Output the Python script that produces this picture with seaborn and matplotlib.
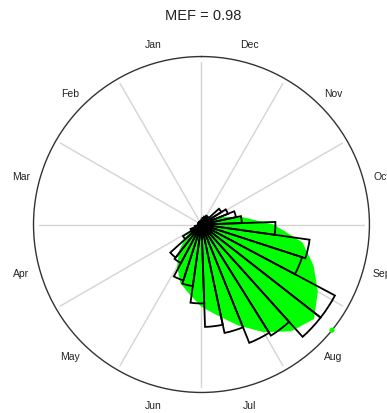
import numpy as np
import matplotlib
matplotlib.use("Agg")
import matplotlib.pyplot as plt
import seaborn as sns

sns.set_theme(style="white")
plt.rcParams["font.family"] = ["Liberation Sans", "DejaVu Sans"]

# Month labels, placed at the centre of each 30-degree sector, Jan at the top,
# running counter-clockwise.
months = ["Jan", "Feb", "Mar", "Apr", "May", "Jun",
          "Jul", "Aug", "Sep", "Oct", "Nov", "Dec"]

# Observed rose diagram: 36 bins of 10 degrees, starting just after Jan 1
# (top) and running counter-clockwise. Lengths relative to the outer circle.
obs_freq = [0.02, 0.02, 0.02, 0.02, 0.02, 0.02, 0.02, 0.02, 0.02, 0.02,
            0.04, 0.07, 0.13, 0.25, 0.26, 0.35, 0.37, 0.47, 0.61, 0.66,
            0.76, 0.78, 0.90, 0.90, 0.63, 0.65, 0.44, 0.24, 0.21, 0.17,
            0.14, 0.05, 0.06, 0.05, 0.04, 0.03]
bin_start_deg = 2.0

# Simulated seasonal density, sampled every 10 degrees from Jan 1.
sim_density = [0.01, 0.01, 0.01, 0.01, 0.01, 0.01, 0.01, 0.01, 0.01, 0.01,
               0.02, 0.04, 0.07, 0.13, 0.21, 0.29, 0.37, 0.42, 0.49, 0.55,
               0.64, 0.74, 0.83, 0.875, 0.80, 0.71, 0.61, 0.43, 0.25, 0.13,
               0.07, 0.03, 0.02, 0.01, 0.01, 0.01]

# Mean direction of the simulated series (degrees from Jan 1).
sim_mean_deg = 231.0
title = "MEF = 0.98"

fig = plt.figure(figsize=(3.87, 4.14), dpi=100)
ax = fig.add_axes([0.0866, 0.0495, 0.868, 0.8116], projection="polar")
ax.set_theta_zero_location("N")
ax.set_theta_direction(1)
ax.set_ylim(0, 1)
ax.set_xticks([])
ax.set_yticks([])
ax.grid(False)
ax.spines["polar"].set_color("#333333")
ax.spines["polar"].set_linewidth(1.0)
ax.set_facecolor("white")

# Month boundaries
for k in range(12):
    th = np.deg2rad(30 * k)
    ax.plot([th, th], [0, 0.97], color="#d4d4d4", lw=1.0, zorder=1)

# Simulated density (filled)
dens_deg = np.arange(0, 360, 10)
th_d = np.deg2rad(np.append(dens_deg, 360))
r_d = np.append(sim_density, sim_density[0])
ax.fill(th_d, r_d, color="#00ff00", lw=0, zorder=2)

# Observed rose (outlined wedges)
centers = np.deg2rad(bin_start_deg + np.arange(len(obs_freq)) * 10 + 5)
ax.bar(centers, obs_freq, width=np.deg2rad(10), bottom=0, align="center",
       fill=False, edgecolor="black", linewidth=1.3, zorder=3)

# Mean direction marker on the circle
sns.scatterplot(x=[np.deg2rad(sim_mean_deg)], y=[1.0], ax=ax, color="#00ff00",
                s=14, edgecolor="none", zorder=4, clip_on=False, legend=False)

for k, m in enumerate(months):
    th = np.deg2rad(30 * k + 15)
    ax.text(th, 1.11, m, ha="center", va="center", fontsize=7.5,
            color="#222222", clip_on=False)

fig.text(0.525, 0.961, title, ha="center", va="center", fontsize=10.5,
         color="#222222")

fig.savefig("out.png", dpi=100, facecolor="white")
